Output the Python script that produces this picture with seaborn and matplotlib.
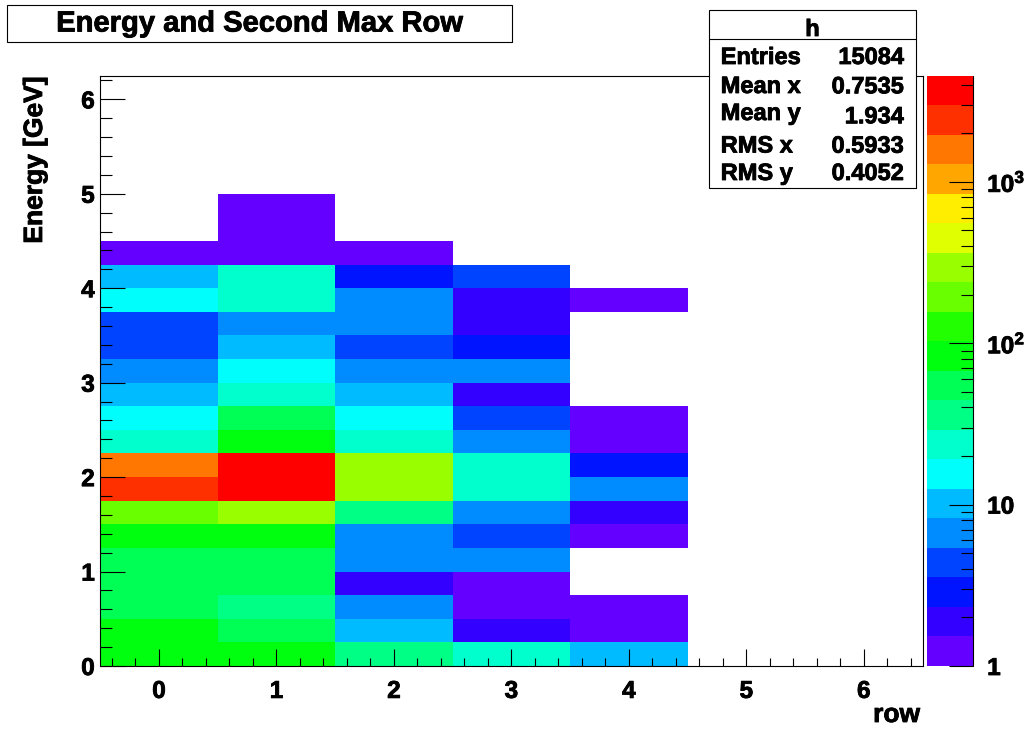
import colorsys

import numpy as np
import pandas as pd
import matplotlib
matplotlib.use("Agg")
import matplotlib.pyplot as plt
import matplotlib.patheffects as pe
from matplotlib.colors import ListedColormap
from matplotlib.patches import Rectangle
from matplotlib.lines import Line2D
from matplotlib.ticker import MultipleLocator, LogLocator, NullFormatter
import seaborn as sns

# ---------------------------------------------------------------- data
TITLE = "Energy and Second Max Row"
X_LABEL = "row"
Y_LABEL = "Energy [GeV]"
HIST_NAME = "h"
STAT_NAMES = ["Entries", "Mean x", "Mean y", "RMS x", "RMS y"]
STAT_VALUES = ["15084", "0.7535", "1.934", "0.5933", "0.4052"]

ROWS = [0, 1, 2, 3, 4, 5, 6]
ENERGY_BIN_WIDTH = 0.25
N_ENERGY_BINS = 25

# entries per 0.25 GeV energy bin (lowest energy first), one list per row
counts_row0 = [85, 85, 55, 55, 55, 85, 190, 2500, 1608, 23, 15, 10, 7, 4, 4,
               15, 10, 1, 0, 0, 0, 0, 0, 0, 0]
counts_row1 = [85, 55, 35, 55, 55, 85, 330, 3882, 4540, 85, 55, 23, 15, 10, 7,
               23, 23, 1, 1, 1, 0, 0, 0, 0, 0]
counts_row2 = [36, 10, 7, 2, 7, 7, 35, 290, 290, 23, 15, 10, 7, 4, 7,
               7, 3, 1, 0, 0, 0, 0, 0, 0, 0]
counts_row3 = [23, 2, 1, 1, 7, 4, 7, 23, 23, 7, 4, 2, 7, 3, 2,
               2, 4, 0, 0, 0, 0, 0, 0, 0, 0]
counts_row4 = [10, 1, 1, 0, 0, 1, 2, 7, 3, 1, 1, 0, 0, 0, 0,
               1, 0, 0, 0, 0, 0, 0, 0, 0, 0]
counts_row5 = [0] * N_ENERGY_BINS
counts_row6 = [0] * N_ENERGY_BINS

counts_by_row = [counts_row0, counts_row1, counts_row2, counts_row3,
                 counts_row4, counts_row5, counts_row6]

records = []
for r, counts in zip(ROWS, counts_by_row):
    for k, n in enumerate(counts):
        if n > 0:
            records.append({"row": r,
                            "energy": (k + 0.5) * ENERGY_BIN_WIDTH,
                            "count": n})
df = pd.DataFrame(records)

row_edges = np.arange(len(ROWS) + 1) - 0.5
energy_edges = np.arange(N_ENERGY_BINS + 1) * ENERGY_BIN_WIDTH
zmax = max(max(c) for c in counts_by_row)


# ------------------------------------------------------ colour palette
def pretty_palette(n=50, max_hue=280.0):
    """Violet -> red rainbow at full saturation."""
    return [colorsys.hls_to_rgb((max_hue - (i + 1) * max_hue / n) / 360.0, 0.5, 1.0)
            for i in range(n)]


N_CONTOURS = 20
palette = pretty_palette()
band_colors = [palette[int((j + 0.99) * len(palette) / N_CONTOURS)]
               for j in range(N_CONTOURS)]
cmap = ListedColormap(band_colors)

# ---------------------------------------------------------------- style
sns.set_theme(style="white")
plt.rcParams["font.family"] = ["Liberation Sans", "DejaVu Sans"]
plt.rcParams["font.weight"] = "bold"
plt.rcParams["text.color"] = "black"
plt.rcParams["axes.labelcolor"] = "black"
plt.rcParams["xtick.color"] = "black"
plt.rcParams["ytick.color"] = "black"
plt.rcParams["mathtext.fontset"] = "custom"
plt.rcParams["mathtext.rm"] = "Liberation Sans:bold"
plt.rcParams["mathtext.bf"] = "Liberation Sans:bold"
plt.rcParams["mathtext.it"] = "Liberation Sans:bold"

# slightly heavier strokes for all lettering
HEAVY = [pe.withStroke(linewidth=0.6, foreground="black")]

W, H = 1031, 731
fig = plt.figure(figsize=(W / 100, H / 100), dpi=100)
fig.patch.set_facecolor("white")


def fx(px):
    return px / W


def fy(py):
    return 1 - py / H


AX_L, AX_R, AX_T, AX_B = 100.25, 922.5, 75.7, 666.0
CB_L, CB_R = 927.3, 973.3
ax = fig.add_axes([fx(AX_L), fy(AX_B), (AX_R - AX_L) / W, (AX_B - AX_T) / H])
cax = fig.add_axes([fx(CB_L), fy(AX_B), (CB_R - CB_L) / W, (AX_B - AX_T) / H])

sns.histplot(data=df, x="row", y="energy", weights="count",
             bins=[row_edges, energy_edges], cmap=cmap,
             norm="log", vmin=1, vmax=zmax,
             cbar=True, cbar_ax=cax, ax=ax)

ax.set_xlim(row_edges[0], row_edges[-1])
ax.set_ylim(energy_edges[0], energy_edges[-1])
ax.set_xlabel("")
ax.set_ylabel("")
ax.set_facecolor("white")
ax.grid(False)
ax.set_axisbelow(False)

ax.xaxis.set_major_locator(MultipleLocator(1))
ax.xaxis.set_minor_locator(MultipleLocator(0.2))
ax.yaxis.set_major_locator(MultipleLocator(1))
ax.yaxis.set_minor_locator(MultipleLocator(0.2))
ax.tick_params(axis="x", which="major", direction="in", length=12.2, width=0.8,
               pad=10, labelsize=17.5, bottom=True, top=False,
               color="black", labelcolor="black")
ax.tick_params(axis="x", which="minor", direction="in", length=6.1, width=0.8,
               bottom=True, top=False, color="black")
ax.tick_params(axis="y", which="major", direction="in", length=17.7, width=0.8,
               pad=4, labelsize=17.5, left=True, right=False,
               color="black", labelcolor="black")
ax.tick_params(axis="y", which="minor", direction="in", length=8.9, width=0.8,
               left=True, right=False, color="black")
for s in ax.spines.values():
    s.set_visible(True)
    s.set_color("black")
    s.set_linewidth(0.8)
    s.set_zorder(10)
for lab in ax.get_xticklabels() + ax.get_yticklabels():
    lab.set_path_effects(HEAVY)

# colour scale
cbar = ax.collections[0].colorbar
cbar.outline.set_visible(False)
cbar.set_ticks([1, 10, 100, 1000],
               labels=["1", "10", r"$\mathbf{10^{2}}$", r"$\mathbf{10^{3}}$"])
cbar.minorlocator = LogLocator(base=10, subs=np.arange(2, 10))
cax.set_axisbelow(False)
cax.yaxis.set_minor_formatter(NullFormatter())
cax.yaxis.set_ticks_position("right")
cax.tick_params(axis="y", which="major", direction="in", length=17.3, width=0.8,
                pad=10, labelsize=17.5, right=True, left=False,
                color="black", labelcolor="black")
cax.tick_params(axis="y", which="minor", direction="in", length=8.4, width=0.8,
                right=True, left=False, color="black")
for lab in cax.get_yticklabels():
    lab.set_path_effects(HEAVY)
cax.add_line(Line2D([1, 1], [0, 1], transform=cax.transAxes, color="black",
                    lw=0.8, clip_on=False, zorder=10))

# axis titles
fig.text(fx(35), fy(76.5), Y_LABEL, rotation=90, ha="center", va="top",
         fontsize=19, weight="bold", color="black", path_effects=HEAVY)
fig.text(fx(920), fy(715), X_LABEL, ha="right", va="center",
         fontsize=19, weight="bold", color="black", path_effects=HEAVY)


# framed boxes with a small drop shadow
def add_box(x0, y0, x1, y1, shadow=1.2):
    fig.add_artist(Rectangle((fx(x0 + shadow), fy(y1 + shadow)), (x1 - x0) / W,
                             (y1 - y0) / H, transform=fig.transFigure,
                             facecolor="black", edgecolor="none", zorder=5))
    fig.add_artist(Rectangle((fx(x0), fy(y1)), (x1 - x0) / W, (y1 - y0) / H,
                             transform=fig.transFigure, facecolor="white",
                             edgecolor="black", lw=0.8, zorder=6))


# title box
add_box(6.7, 5.0, 512.0, 41.7)
fig.text(fx(259.5), fy(31.5), TITLE, ha="center", va="baseline",
         fontsize=21, weight="bold", color="black", zorder=7, path_effects=HEAVY)

# statistics box
SB_L, SB_R, SB_T, SB_B = 709.0, 916.0, 10.3, 188.0
add_box(SB_L, SB_T, SB_R, SB_B)
fig.add_artist(Line2D([fx(SB_L), fx(SB_R)], [fy(39.3), fy(39.3)],
                      transform=fig.transFigure, color="black", lw=0.8, zorder=7))
fig.text(fx(812.5), fy(36), HIST_NAME, ha="center", va="baseline",
         fontsize=17, weight="bold", color="black", zorder=7, path_effects=HEAVY)
name_baselines = [64.0, 93.0, 120.0, 152.5, 180.0]
value_baselines = [64.0, 93.3, 123.3, 152.7, 180.0]
for name, value, yb_n, yb_v in zip(STAT_NAMES, STAT_VALUES,
                                   name_baselines, value_baselines):
    fig.text(fx(720.7), fy(yb_n), name, ha="left", va="baseline",
             fontsize=17, weight="bold", color="black", zorder=7,
             path_effects=HEAVY)
    fig.text(fx(904.0), fy(yb_v), value, ha="right", va="baseline",
             fontsize=17, weight="bold", color="black", zorder=7,
             path_effects=HEAVY)

fig.savefig("out.png", dpi=100, facecolor="white")
